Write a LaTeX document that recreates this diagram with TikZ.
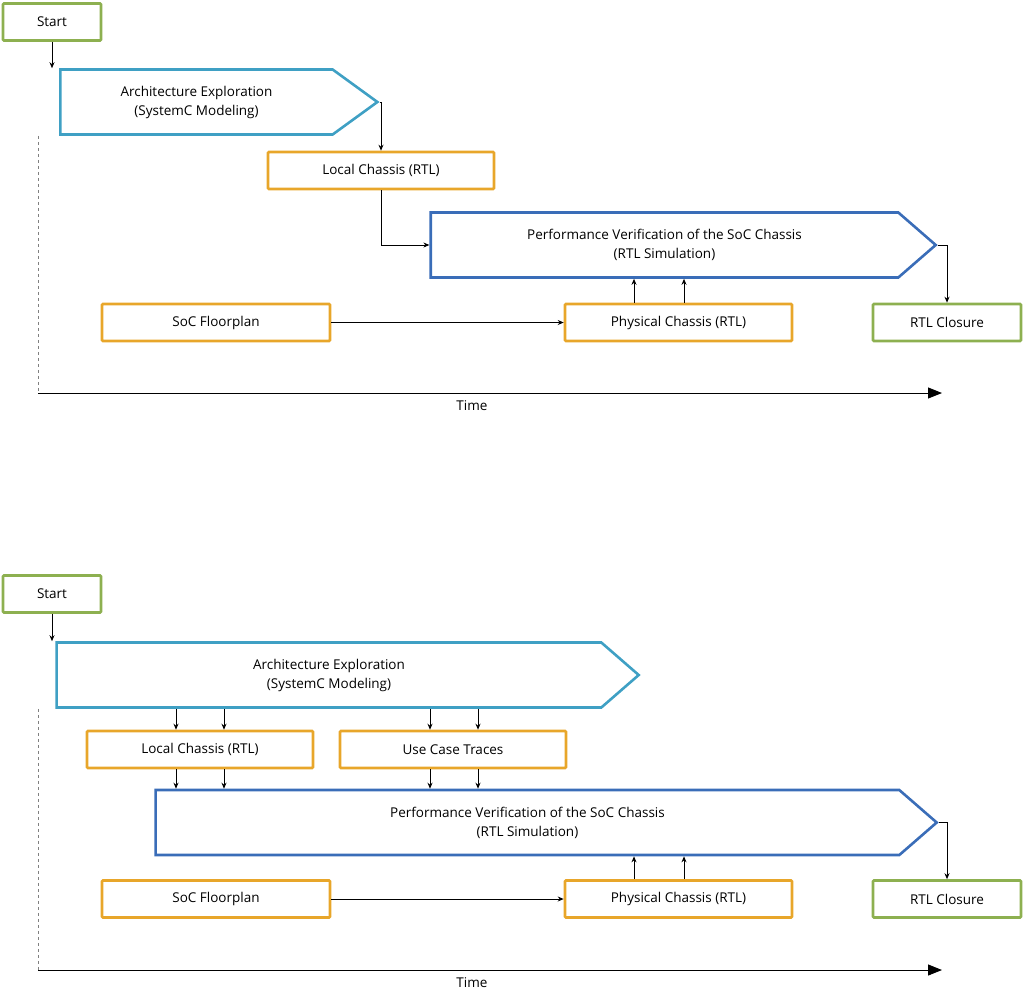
\documentclass[tikz,border=0pt]{standalone}
\usepackage{fontspec}
\setmainfont{Open Sans}
\usetikzlibrary{shapes.symbols, arrows.meta}

\definecolor{boxgreen}{HTML}{8DB050}
\definecolor{boxorange}{HTML}{E8A62A}
\definecolor{archblue}{HTML}{3FA0C4}
\definecolor{perfblue}{HTML}{3A6DB8}

\tikzset{
  box/.style = {draw, line width=2.6pt, rounded corners=1pt, minimum height=37pt,
                inner sep=0pt, font=\fontsize{13.5}{16}\selectfont},
  startbox/.style = {box, draw=boxgreen, minimum width=98pt},
  taskbox/.style = {box, draw=boxorange, minimum width=226pt},
  phase/.style = {draw, line width=2.6pt, shape=signal, signal to=east,
                  minimum height=65pt, inner sep=0pt, align=center,
                  font=\fontsize{13.5}{19}\selectfont},
  link/.style = {-{Stealth[length=6pt,width=5pt]}, line width=0.9pt},
  axis/.style = {-{Triangle[length=14pt,width=11pt]}, line width=1pt},
}

\begin{document}
\begin{tikzpicture}[x=1pt, y=-1pt]
\useasboundingbox (0,0) rectangle (1024,1002);

% upper flow
\node[startbox] (start1) at (52,22) {Start};
\node[phase, draw=archblue, minimum width=317pt, signal pointer angle=72] (arch1) at (196.5,102)
  {Architecture Exploration\\(SystemC Modeling)};
\node[taskbox] (local1) at (381,170.5) {Local Chassis (RTL)};
\node[phase, draw=perfblue, minimum width=505pt, signal pointer angle=82] (perf1) at (664.5,245)
  {Performance Verification of the SoC Chassis\\(RTL Simulation)};
\node[taskbox, minimum width=228pt] (floor1) at (216,322.5) {SoC Floorplan};
\node[taskbox, minimum width=227pt] (phys1) at (678.5,322.5) {Physical Chassis (RTL)};
\node[startbox, minimum width=148pt] (close1) at (947,322.5) {RTL Closure};
\coordinate (orig1) at (38,393);
\coordinate (end1) at (942,393);

\draw[link] (start1.south -| 52,0) -- (arch1.north -| 52,0);
\draw[link] (arch1.east) -| (local1.north);
\draw[link] (local1.south) |- (perf1.west);
\draw[link] (perf1.east) -| (close1.north);
\draw[link] (floor1.east) -- (phys1.west);
\foreach \x in {634,684}
  \draw[link] (phys1.north -| \x,0) -- (perf1.south -| \x,0);
\draw[gray, dashed, line width=0.8pt] (arch1.south -| orig1) -- (orig1);
\draw[axis] (orig1) -- (end1) node[pos=0.48, below=4pt, font=\fontsize{13.5}{16}\selectfont] (time1) {Time};

% lower flow
\node[startbox] (start2) at (52,594) {Start};
\node[phase, draw=archblue, minimum width=582pt, signal pointer angle=82] (arch2) at (329,675)
  {Architecture Exploration\\(SystemC Modeling)};
\node[taskbox] (local2) at (200,749.5) {Local Chassis (RTL)};
\node[taskbox] (trace2) at (453,749.5) {Use Case Traces};
\node[phase, draw=perfblue, minimum width=781pt, signal pointer angle=82] (perf2) at (527.5,822.5)
  {Performance Verification of the SoC Chassis\\(RTL Simulation)};
\node[taskbox, minimum width=228pt] (floor2) at (216,899) {SoC Floorplan};
\node[taskbox, minimum width=227pt] (phys2) at (678.5,899) {Physical Chassis (RTL)};
\node[startbox, minimum width=148pt] (close2) at (947,899) {RTL Closure};
\coordinate (orig2) at (38,970);
\coordinate (end2) at (942,970);

\draw[link] (start2.south -| 52,0) -- (arch2.north -| 52,0);
\foreach \x in {176,224} {
  \draw[link] (arch2.south -| \x,0) -- (local2.north -| \x,0);
  \draw[link] (local2.south -| \x,0) -- (perf2.north -| \x,0);
}
\foreach \x in {430,478} {
  \draw[link] (arch2.south -| \x,0) -- (trace2.north -| \x,0);
  \draw[link] (trace2.south -| \x,0) -- (perf2.north -| \x,0);
}
\draw[link] (perf2.east) -| (close2.north);
\draw[link] (floor2.east) -- (phys2.west);
\foreach \x in {634,684}
  \draw[link] (phys2.north -| \x,0) -- (perf2.south -| \x,0);
\draw[gray, dashed, line width=0.8pt] (arch2.south -| orig2) -- (orig2);
\draw[axis] (orig2) -- (end2) node[pos=0.48, below=4pt, font=\fontsize{13.5}{16}\selectfont] (time2) {Time};
\end{tikzpicture}
\end{document}
